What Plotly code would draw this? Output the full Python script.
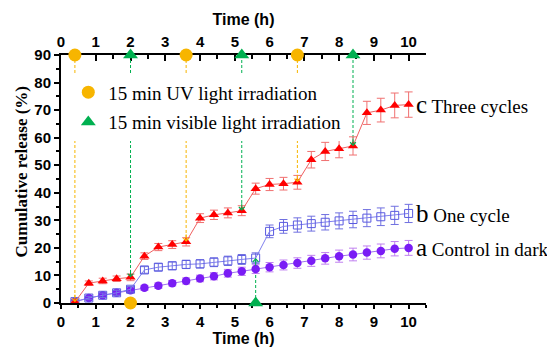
import plotly.graph_objects as go

# ---------------- data ----------------
time_h = [0.4, 0.8, 1.2, 1.6, 2.0, 2.4, 2.8, 3.2, 3.6, 4.0, 4.4, 4.8, 5.2,
          5.6, 6.0, 6.4, 6.8, 7.2, 7.6, 8.0, 8.4, 8.8, 9.2, 9.6, 10.0]

control_dark = [0.5, 1.8, 2.8, 3.7, 4.6, 5.5, 6.3, 7.2, 8.0, 8.9, 9.7, 10.8, 11.5,
                12.3, 13.0, 13.8, 14.5, 15.3, 16.2, 17.0, 17.6, 18.3, 18.9, 19.7, 20.0]
control_err = [0.3, 0.5, 0.6, 0.7, 0.8, 0.9, 1.0, 1.0, 1.1, 1.2, 1.3, 1.4, 1.5,
               1.6, 1.7, 1.8, 1.9, 2.0, 2.1, 2.2, 2.3, 2.4, 2.5, 2.6, 2.7]

one_cycle = [0.5, 1.8, 2.8, 3.7, 5.0, 12.0, 13.0, 13.5, 14.0, 14.2, 14.8, 15.3, 15.8,
             16.3, 26.0, 27.8, 28.3, 28.8, 29.3, 29.8, 30.3, 30.8, 31.3, 31.8, 32.5]
one_err = [0.3, 0.6, 0.8, 0.9, 1.0, 1.2, 1.3, 1.4, 1.5, 1.5, 1.6, 1.7, 1.8,
           1.9, 2.3, 2.5, 2.6, 2.7, 2.8, 2.9, 3.0, 3.1, 3.2, 3.3, 3.3]

three_cycles = [0.3, 7.2, 8.0, 8.8, 9.3, 17.0, 20.3, 21.2, 22.2, 30.8, 32.0, 32.7, 33.5,
                41.5, 43.0, 43.3, 43.8, 52.0, 55.0, 56.0, 57.0, 69.0, 70.0, 71.7, 72.0]
three_err = [0.3, 0.8, 1.0, 1.0, 1.2, 1.2, 1.3, 1.4, 1.5, 1.6, 1.7, 1.8, 1.8,
             2.0, 2.2, 2.3, 2.5, 3.0, 3.3, 3.3, 3.3, 4.2, 4.3, 4.5, 4.6]

uv_times_three = [0.4, 3.6, 6.8]
vis_times_three = [2.0, 5.2, 8.4]
uv_times_one = [2.0]
vis_times_one = [5.6]

x_ticks = list(range(0, 11))
y_ticks = list(range(0, 91, 10))
Y_MAX = 90

series_labels = ["c", "b", "a"]
series_names = ["Three cycles", "One cycle", "Control in dark"]

# ---------------- style ----------------
RED = "#ff0000"
BLUE = "#5a5ae0"
PURPLE = "#7a1cf5"
ORANGE = "#f7b500"
GREEN = "#00b050"
SERIF = "Liberation Serif, Times New Roman, serif"
SANS = "Liberation Sans, Arial, sans-serif"


def value_at(series, t):
    return series[min(range(len(time_h)), key=lambda i: abs(time_h[i] - t))]


fig = go.Figure()

# dashed guide lines between the axes and the release curves
def guide(times, series, start, color):
    xs, ys = [], []
    for t in times:
        xs += [t, t, None]
        ys += [start, value_at(series, t), None]
    return go.Scatter(x=xs, y=ys, mode="lines", showlegend=False, hoverinfo="skip",
                      line=dict(color=color, width=1, dash="3px,2px"))

fig.add_trace(guide(uv_times_three, three_cycles, Y_MAX, ORANGE))
fig.add_trace(guide(vis_times_three, three_cycles, Y_MAX, GREEN))
fig.add_trace(guide(vis_times_one, one_cycle, 0, GREEN))

# data series
fig.add_trace(go.Scatter(
    x=time_h, y=control_dark, mode="lines+markers", showlegend=False,
    error_y=dict(type="data", array=control_err, color="#c080f0", thickness=1, width=4),
    line=dict(color="#a070f0", width=1),
    marker=dict(symbol="circle", size=8.5, color=PURPLE)))
fig.add_trace(go.Scatter(
    x=time_h, y=one_cycle, mode="lines+markers", showlegend=False,
    error_y=dict(type="data", array=one_err, color="#7070e0", thickness=1, width=4),
    line=dict(color="#8080ee", width=1),
    marker=dict(symbol="square-open", size=8, color=BLUE, line=dict(width=1))))
fig.add_trace(go.Scatter(
    x=time_h, y=three_cycles, mode="lines+markers", showlegend=False,
    error_y=dict(type="data", array=three_err, color="#f07070", thickness=1, width=4),
    line=dict(color="#f06060", width=1),
    marker=dict(symbol="triangle-up", size=9, color=RED)))

# irradiation markers on the axes
fig.add_trace(go.Scatter(
    x=uv_times_three, y=[Y_MAX] * len(uv_times_three), mode="markers",
    name="15 min UV light irradiation", legendgroup="uv", cliponaxis=False,
    marker=dict(symbol="circle", size=13, color=ORANGE)))
fig.add_trace(go.Scatter(
    x=uv_times_one, y=[0] * len(uv_times_one), mode="markers",
    legendgroup="uv", showlegend=False, cliponaxis=False,
    marker=dict(symbol="circle", size=13, color=ORANGE)))
fig.add_trace(go.Scatter(
    x=vis_times_three, y=[Y_MAX] * len(vis_times_three), mode="markers",
    name="15 min visible light irradiation", legendgroup="vis", cliponaxis=False,
    marker=dict(symbol="triangle-up", size=13, color=GREEN)))
fig.add_trace(go.Scatter(
    x=vis_times_one, y=[0] * len(vis_times_one), mode="markers",
    legendgroup="vis", showlegend=False, cliponaxis=False,
    marker=dict(symbol="triangle-up", size=13, color=GREEN)))

# invisible trace for the top axis
fig.add_trace(go.Scatter(x=[0, 10.5], y=[0, 0], xaxis="x2", mode="markers",
                         marker=dict(opacity=0), showlegend=False, hoverinfo="skip"))

# arrowheads
for t in uv_times_three:
    fig.add_annotation(x=t, y=value_at(three_cycles, t), ax=0, ay=-9, text="",
                       showarrow=True, arrowhead=4, arrowsize=1.1, arrowwidth=1, arrowcolor=ORANGE)
for t in vis_times_three:
    fig.add_annotation(x=t, y=value_at(three_cycles, t), ax=0, ay=-9, text="",
                       showarrow=True, arrowhead=4, arrowsize=1.1, arrowwidth=1, arrowcolor=GREEN)
for t in vis_times_one:
    fig.add_annotation(x=t, y=value_at(one_cycle, t), ax=0, ay=9, text="",
                       showarrow=True, arrowhead=4, arrowsize=1.1, arrowwidth=1, arrowcolor=GREEN)

# series labels on the right
for lab, name, ser in zip(series_labels, series_names, [three_cycles, one_cycle, control_dark]):
    fig.add_annotation(x=10.16, y=ser[-1], xanchor="left", yanchor="middle", showarrow=False,
                       text=f"<span style='font-size:25px'>{lab}</span> {name}",
                       font=dict(family=SERIF, size=19, color="black"))

# y title
fig.add_annotation(x=-0.107, y=0.53, xref="paper", yref="paper", textangle=-90,
                   xanchor="center", yanchor="middle",
                   showarrow=False, text="Cumulative release (%)",
                   font=dict(family=SERIF, size=17, color="black", weight="bold"))

axis_font = dict(family=SANS, size=15, color="black", weight="bold")
xcommon = dict(range=[0, 10.5], tickvals=x_ticks, showline=True, linecolor="black",
               linewidth=2, tickwidth=2, tickcolor="black", tickfont=axis_font,
               showgrid=False, zeroline=False, layer="below traces", automargin=False)
title_font = dict(family=SANS, size=16, color="black", weight="bold")

# the page adds an 8 px body margin, so the figure is 8 px smaller than the window
fig.update_layout(
    width=547, height=339,
    margin=dict(l=53, r=129, t=47, b=44, autoexpand=False),
    paper_bgcolor="white", plot_bgcolor="white",
    xaxis=dict(**xcommon, ticks="outside", ticklen=4,
               minor=dict(dtick=0.5, ticks="outside", ticklen=3, tickwidth=1.5, tickcolor="black"),
               title=dict(text="Time (h)", font=title_font, standoff=5)),
    xaxis2=dict(**xcommon, overlaying="x", side="top", anchor="y",
                ticks="inside", ticklen=6,
                minor=dict(dtick=0.5, ticks="inside", ticklen=4, tickwidth=1.5, tickcolor="black"),
                title=dict(text="Time (h)", font=title_font, standoff=3)),
    yaxis=dict(range=[0, Y_MAX], tickvals=y_ticks, showline=True, linecolor="black",
               linewidth=2, ticks="outside", tickwidth=2, ticklen=5, tickcolor="black",
               tickfont=axis_font, showgrid=False, zeroline=False, layer="below traces",
               automargin=False,
               minor=dict(dtick=5, ticks="outside", ticklen=3, tickwidth=1.5, tickcolor="black")),
    legend=dict(x=0.02, y=0.926, xanchor="left", yanchor="top", bgcolor="white",
                font=dict(family=SERIF, size=19, color="black"), tracegroupgap=2,
                itemwidth=30),
    showlegend=True,
)

fig.write_html("out.html")
